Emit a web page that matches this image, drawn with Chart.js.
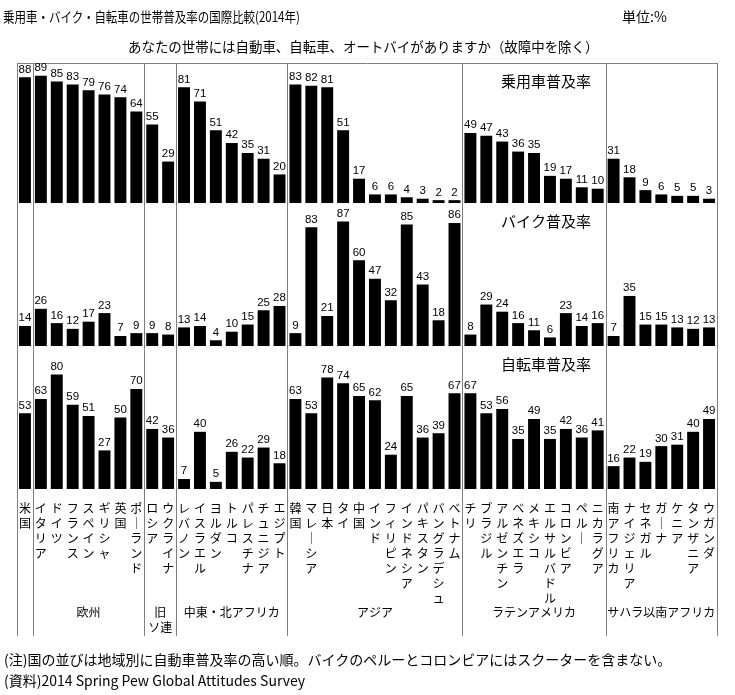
<!DOCTYPE html>
<html lang="ja">
<head>
<meta charset="utf-8">
<script src="https://cdn.jsdelivr.net/npm/chart.js@4.4.1/dist/chart.umd.min.js"></script>
<style>
  body { margin: 0; background: #fff; }
  #wrap { position: relative; width: 735px; height: 695px; font-family: "Noto Sans CJK JP", sans-serif; color: #000; }
  #wrap canvas { position: absolute; left: 0; top: 0; }
  .txt { position: absolute; white-space: nowrap; font-size: 14px; line-height: 18px; }
</style>
</head>
<body>
<div id="wrap">
  <canvas id="chart" width="735" height="695"></canvas>
  <div class="txt" style="left:3px; top:7px; transform:scaleX(0.82); transform-origin:left top;">乗用車・バイク・自転車の世帯普及率の国際比較(2014年)</div>
  <div class="txt" style="left:622px; top:7px;">単位:%</div>
  <div class="txt" style="left:128px; top:37px; transform:scaleX(0.96); transform-origin:left top;">あなたの世帯には自動車、自転車、オートバイがありますか（故障中を除く）</div>
  <div class="txt" style="left:4px; top:650px;">(注)国の並びは地域別に自動車普及率の高い順。バイクのペルーとコロンビアにはスクーターを含まない。</div>
  <div class="txt" style="left:4px; top:671px;">(資料)2014 Spring Pew Global Attitudes Survey</div>
</div>
<script>
// countries, in the order of the picture (grouped by region)
const countries = [
  '米国',
  'イタリア', 'ドイツ', 'フランス', 'スペイン', 'ギリシャ', '英国', 'ポーランド',
  'ロシア', 'ウクライナ',
  'レバノン', 'イスラエル', 'ヨルダン', 'トルコ', 'パレスチナ', 'チュニジア', 'エジプト',
  '韓国', 'マレーシア', '日本', 'タイ', '中国', 'インド', 'フィリピン', 'インドネシア', 'パキスタン', 'バングラデシュ', 'ベトナム',
  'チリ', 'ブラジル', 'アルゼンチン', 'ベネズエラ', 'メキシコ', 'エルサルバドル', 'コロンビア', 'ペルー', 'ニカラグア',
  '南アフリカ', 'ナイジェリア', 'セネガル', 'ガーナ', 'ケニア', 'タンザニア', 'ウガンダ'
];
const regionNames = ['', '欧州', '旧\nソ連', '中東・北アフリカ', 'アジア', 'ラテンアメリカ', 'サハラ以南アフリカ'];
const regionSizes = [1, 7, 2, 7, 11, 9, 7];

const carRate = [
  88,
  89, 85, 83, 79, 76, 74, 64,
  55, 29,
  81, 71, 51, 42, 35, 31, 20,
  83, 82, 81, 51, 17, 6, 6, 4, 3, 2, 2,
  49, 47, 43, 36, 35, 19, 17, 11, 10,
  31, 18, 9, 6, 5, 5, 3
];
const motorbikeRate = [
  14,
  26, 16, 12, 17, 23, 7, 9,
  9, 8,
  13, 14, 4, 10, 15, 25, 28,
  9, 83, 21, 87, 60, 47, 32, 85, 43, 18, 86,
  8, 29, 24, 16, 11, 6, 23, 14, 16,
  7, 35, 15, 15, 13, 12, 13
];
const bicycleRate = [
  53,
  63, 80, 59, 51, 27, 50, 70,
  42, 36,
  7, 40, 5, 26, 22, 29, 18,
  63, 53, 78, 74, 65, 62, 24, 65, 36, 39, 67,
  67, 53, 56, 35, 49, 35, 42, 36, 41,
  16, 22, 19, 30, 31, 40, 49
];
const rowTitles = ['乗用車普及率', 'バイク普及率', '自転車普及率'];

const jpFont = '"Noto Sans CJK JP", sans-serif';
const lineGray = '#808080';

// one character per line, long vowel mark turned for vertical writing
function verticalText(name) {
  return Array.from(name).map(c => c === 'ー' ? '｜' : c);
}

const frameLines = {
  id: 'frameLines',
  beforeDatasetsDraw(chart) {
    const {ctx, chartArea: a, scales: {x}} = chart;
    const bottom = a.bottom + 147;
    const xs = [a.left, a.right];
    let n = 0;
    regionSizes.slice(0, -1).forEach(s => {
      n += s;
      xs.push((x.getPixelForValue(n - 1) + x.getPixelForValue(n)) / 2);
    });
    ctx.save();
    ctx.strokeStyle = lineGray;
    ctx.lineWidth = 1;
    ctx.beginPath();
    xs.forEach(px => {
      const p = Math.round(px) + 0.5;
      ctx.moveTo(p, a.top);
      ctx.lineTo(p, bottom);
    });
    const t = Math.round(a.top) + 0.5;
    ctx.moveTo(a.left, t);
    ctx.lineTo(a.right + 1, t);
    ctx.stroke();
    ctx.restore();
  }
};

const valueLabels = {
  id: 'valueLabels',
  afterDatasetsDraw(chart) {
    const {ctx} = chart;
    ctx.save();
    ctx.fillStyle = '#000';
    ctx.font = '11.5px "Liberation Sans", Arial, sans-serif';
    ctx.textAlign = 'center';
    ctx.textBaseline = 'bottom';
    chart.data.datasets.forEach((ds, i) => {
      chart.getDatasetMeta(i).data.forEach((bar, j) => {
        ctx.fillText(ds.data[j], bar.x, bar.y - 2);
      });
    });
    ctx.restore();
  }
};

const extraTexts = {
  id: 'extraTexts',
  afterDraw(chart) {
    const {ctx, chartArea: a, scales} = chart;
    ctx.save();
    ctx.fillStyle = '#000';
    ctx.textAlign = 'center';
    ctx.textBaseline = 'middle';
    // row titles
    ctx.font = '15px ' + jpFont;
    ['y1', 'y2', 'y3'].forEach((id, i) => {
      ctx.fillText(rowTitles[i], 546, scales[id].top + 18);
    });
    // region names under the country names
    ctx.font = '12px ' + jpFont;
    let start = 0;
    regionSizes.forEach((s, i) => {
      const cx = (scales.x.getPixelForValue(start) + scales.x.getPixelForValue(start + s - 1)) / 2;
      regionNames[i].split('\n').forEach((line, k) => {
        ctx.fillText(line, cx, a.bottom + 123 + k * 15);
      });
      start += s;
    });
    ctx.restore();
  }
};

const barStyle = {
  backgroundColor: '#000',
  borderWidth: 0,
  barPercentage: 0.75,
  categoryPercentage: 1.0,
  grouped: false
};

new Chart(document.getElementById('chart'), {
  type: 'bar',
  data: {
    labels: countries,
    datasets: [
      Object.assign({label: rowTitles[0], data: carRate, yAxisID: 'y1'}, barStyle),
      Object.assign({label: rowTitles[1], data: motorbikeRate, yAxisID: 'y2'}, barStyle),
      Object.assign({label: rowTitles[2], data: bicycleRate, yAxisID: 'y3'}, barStyle)
    ]
  },
  options: {
    responsive: false,
    animation: false,
    layout: { padding: { left: 17, right: 18, top: 63, bottom: 55 } },
    plugins: {
      legend: { display: false },
      tooltip: { enabled: false }
    },
    scales: {
      x: {
        grid: { display: false },
        border: { display: false },
        ticks: {
          autoSkip: false,
          maxRotation: 0,
          minRotation: 0,
          padding: 4,
          color: '#000',
          font: { family: jpFont, size: 12, lineHeight: 1.25 },
          callback: (v, i) => verticalText(countries[i])
        },
        afterFit: s => { s.height = 151; }
      },
      // stacked axes are laid out from the bottom up
      y3: { stack: 'rows', stackWeight: 143, min: 0, max: 100, display: false },
      y2: { stack: 'rows', stackWeight: 143, min: 0, max: 100, display: false },
      y1: { stack: 'rows', stackWeight: 140, min: 0, max: 98, display: false }
    }
  },
  plugins: [frameLines, valueLabels, extraTexts]
});
</script>
</body>
</html>
